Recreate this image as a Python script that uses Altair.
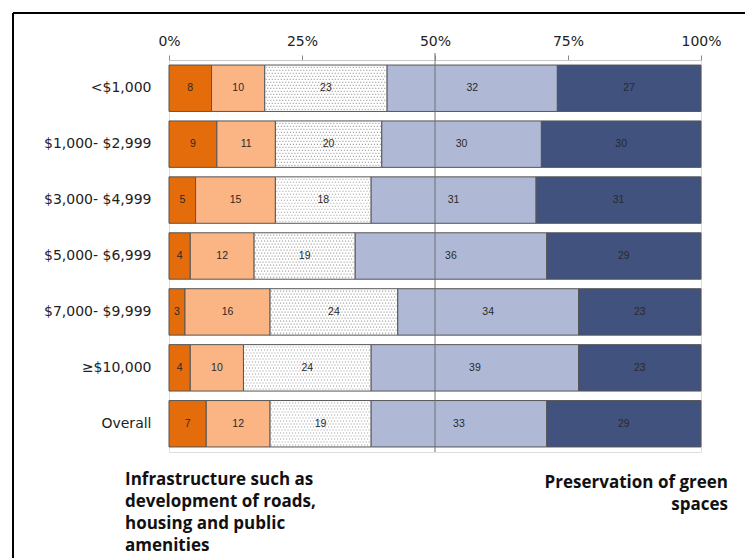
import altair as alt
import pandas as pd

# Income groups and the share (%) choosing each point on the 5-step scale
groups = ["<$1,000", "$1,000- $2,999", "$3,000- $4,999", "$5,000- $6,999",
          "$7,000- $9,999", "\u2265$10,000", "Overall"]
levels = ["1", "2", "3", "4", "5"]
level_1 = [8, 9, 5, 4, 3, 4, 7]
level_2 = [10, 11, 15, 12, 16, 10, 12]
level_3 = [23, 20, 18, 19, 24, 24, 19]
level_4 = [32, 30, 31, 36, 34, 39, 33]
level_5 = [27, 30, 31, 29, 23, 23, 29]
colors = ["#E46C0A", "#FBB584", "#FFFFFF", "#AFB9D6", "#40527D"]
tick_values = [0, 25, 50, 75, 100]

left_note = "Infrastructure such as\ndevelopment of roads,\nhousing and public\namenities"
right_note = "Preservation of green\nspaces"

W, H = 532, 392
PAD_IN, PAD_OUT = 0.17, 0.09

series = [level_1, level_2, level_3, level_4, level_5]
rows = []
for gi, g in enumerate(groups):
    start = 0
    for li, lv in enumerate(levels):
        v = series[li][gi]
        rows.append({"group": g, "level": lv, "value": v,
                     "start": start, "end": start + v, "mid": start + v / 2,
                     "row": gi})
        start += v
df = pd.DataFrame(rows)
one = pd.DataFrame({"k": [0]})

# stipple texture for the neutral (middle) segment
step_px = W / 100.0
band_step = H / (len(groups) - PAD_IN + 2 * PAD_OUT)
dx = 3.0 / step_px
dy = 3.0 / band_step
dots = []
for _, r in df[df["level"] == "3"].iterrows():
    top = r["row"] + PAD_OUT
    bottom = top + (1 - PAD_IN)
    k = 0
    yy = top + dy * 0.8
    while yy < bottom - dy * 0.4:
        xx = r["start"] + dx * (0.5 if k % 2 == 0 else 1.0)
        while xx < r["end"] - dx * 0.3:
            dots.append({"x": xx, "y": yy})
            xx += dx
        yy += dy
        k += 1
dots_df = pd.DataFrame(dots)

x_scale = alt.Scale(domain=[0, 100], nice=False, zero=False)
y_band = alt.Scale(domain=groups, paddingInner=PAD_IN, paddingOuter=PAD_OUT)
color_scale = alt.Scale(domain=levels, range=colors)
x_axis = alt.Axis(orient="top", values=tick_values, title=None,
                  labelExpr="datum.value + '%'", grid=False, labelFlush=False,
                  domainColor="#C8C8C8", tickColor="#888888",
                  tickSize=5, labelFontSize=14, labelFont="DejaVu Sans",
                  labelColor="#222222", labelPadding=7)

base = alt.Chart(df)

bars = base.mark_bar(stroke="#555555", strokeWidth=1).encode(
    x=alt.X("start:Q", scale=x_scale, axis=x_axis, title=None),
    x2="end:Q",
    y=alt.Y("group:N", scale=y_band, sort=groups,
            axis=alt.Axis(title=None, ticks=False, domain=False,
                          labelFontSize=14, labelFont="DejaVu Sans",
                          labelColor="#222222", labelPadding=18)),
    color=alt.Color("level:N", scale=color_scale, legend=None),
)

stipple = alt.Chart(dots_df).mark_square(size=1.3, color="#A0A0A0", opacity=0.95).encode(
    x=alt.X("x:Q", scale=x_scale, axis=x_axis, title=None),
    y=alt.Y("y:Q", scale=alt.Scale(domain=[0, len(groups) - PAD_IN + 2 * PAD_OUT],
                                   reverse=True, nice=False, zero=False), axis=None),
)

labels = base.mark_text(font="Liberation Sans", fontSize=10.5, color="#2A2A2A").encode(
    x=alt.X("mid:Q", scale=x_scale, axis=x_axis, title=None),
    y=alt.Y("group:N", scale=y_band, sort=groups, axis=None),
    text="value:Q",
)

mid_rule = alt.Chart(one).mark_rule(color="#707070", strokeWidth=1).encode(
    x=alt.X(datum=50, scale=x_scale, axis=x_axis, title=None),
    y=alt.value(-7), y2=alt.value(H)
)

frame_top = alt.Chart(one).mark_rule(color="#000000", strokeWidth=2).encode(
    x=alt.value(-156), x2=alt.value(576), y=alt.value(-47)
)
frame_left = alt.Chart(one).mark_rule(color="#000000", strokeWidth=2).encode(
    x=alt.value(-156), y=alt.value(-47), y2=alt.value(498)
)

note_l = alt.Chart(one).mark_text(
    text=left_note, lineBreak="\n", lineHeight=22, align="left", baseline="alphabetic",
    font="Open Sans", fontWeight="bold", fontSize=17, color="#111111"
).encode(x=alt.value(-44), y=alt.value(425))

note_r = alt.Chart(one).mark_text(
    text=right_note, lineBreak="\n", lineHeight=22, align="right", baseline="alphabetic",
    font="Open Sans", fontWeight="bold", fontSize=17, color="#111111"
).encode(x=alt.value(559), y=alt.value(428))

chart = alt.layer(
    bars, stipple, labels, mid_rule, frame_top, frame_left, note_l, note_r
).resolve_scale(y="independent").properties(
    width=W, height=H,
    autosize=alt.AutoSizeParams(type="none"),
    padding={"left": 169, "top": 60, "right": 44, "bottom": 106},
).configure_view(stroke=None).configure(background="white")

chart.save("out.html", embed_options={"renderer": "svg", "actions": False})
